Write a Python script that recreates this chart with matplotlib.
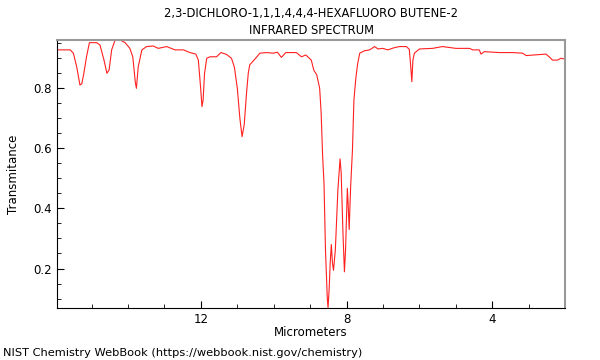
from matplotlib import pyplot as plt
from matplotlib.ticker import MultipleLocator

# spectrum (micrometers, transmittance)
wavelength_um = [
    15.94, 15.59, 15.50, 15.41, 15.32, 15.27, 15.22, 15.14, 15.06, 14.86,
    14.77, 14.66, 14.58, 14.52, 14.45, 14.36, 14.22, 14.08, 13.95, 13.87,
    13.80, 13.77, 13.72, 13.62, 13.49, 13.31, 13.17, 12.94, 12.71, 12.48,
    12.30, 12.14, 12.07, 12.01, 11.97, 11.94, 11.90, 11.84, 11.75, 11.57,
    11.45, 11.30, 11.16, 11.08, 11.00, 10.93, 10.87, 10.81, 10.75, 10.70,
    10.66, 10.52, 10.38, 10.20, 10.02, 9.90, 9.79, 9.67, 9.38, 9.24,
    9.12, 8.97, 8.90, 8.82, 8.74, 8.70, 8.66, 8.62, 8.58, 8.53,
    8.51, 8.48, 8.45, 8.42, 8.39, 8.36, 8.31, 8.24, 8.18, 8.15,
    8.10, 8.06, 8.03, 7.98, 7.96, 7.93, 7.89, 7.84, 7.80, 7.75,
    7.70, 7.64, 7.51, 7.37, 7.23, 7.14, 7.01, 6.87, 6.70, 6.55,
    6.36, 6.28, 6.24, 6.21, 6.18, 6.14, 6.00, 5.64, 5.37, 5.00,
    4.63, 4.54, 4.36, 4.31, 4.22, 3.81, 3.44, 3.17, 3.07, 2.53,
    2.44, 2.35, 2.21, 2.12, 2.03,
]
transmittance = [
    0.928, 0.928, 0.917, 0.872, 0.811, 0.815, 0.845, 0.905, 0.952, 0.952,
    0.944, 0.894, 0.850, 0.861, 0.928, 0.959, 0.961, 0.952, 0.933, 0.905,
    0.820, 0.800, 0.872, 0.928, 0.939, 0.941, 0.933, 0.939, 0.928, 0.928,
    0.919, 0.914, 0.894, 0.805, 0.739, 0.760, 0.850, 0.900, 0.905, 0.905,
    0.919, 0.913, 0.900, 0.870, 0.800, 0.700, 0.639, 0.680, 0.780, 0.850,
    0.878, 0.897, 0.917, 0.919, 0.917, 0.920, 0.903, 0.919, 0.919, 0.905,
    0.911, 0.894, 0.860, 0.845, 0.800, 0.720, 0.580, 0.480, 0.260, 0.100,
    0.070, 0.130, 0.220, 0.280, 0.220, 0.194, 0.261, 0.461, 0.565, 0.520,
    0.317, 0.189, 0.261, 0.467, 0.420, 0.330, 0.472, 0.594, 0.760, 0.830,
    0.880, 0.917, 0.925, 0.928, 0.939, 0.931, 0.933, 0.928, 0.935, 0.939,
    0.939, 0.930, 0.872, 0.822, 0.894, 0.917, 0.931, 0.933, 0.939, 0.933,
    0.933, 0.928, 0.928, 0.914, 0.922, 0.919, 0.919, 0.917, 0.909, 0.914,
    0.905, 0.894, 0.894, 0.900, 0.898,
]

title = "2,3-DICHLORO-1,1,1,4,4,4-HEXAFLUORO BUTENE-2\nINFRARED SPECTRUM"
source = "NIST Chemistry WebBook (https://webbook.nist.gov/chemistry)"

fig = plt.figure(figsize=(6, 3.6), dpi=100)
ax = fig.add_axes([0.095, 0.144, 0.847, 0.745])

ax.plot(wavelength_um, transmittance, color='#ff2020', lw=0.8)
ax.set_xlim(15.95, 2.0)
ax.set_ylim(0.068, 0.961)

ax.xaxis.set_major_locator(MultipleLocator(4))
ax.xaxis.set_minor_locator(MultipleLocator(1))
ax.yaxis.set_major_locator(MultipleLocator(0.2))
ax.yaxis.set_minor_locator(MultipleLocator(0.05))
ax.tick_params(which='both', direction='in', labelsize=8.5)
ax.tick_params(which='major', length=5)
ax.tick_params(which='minor', length=3)
ax.tick_params(top=False, right=False, which='both')

for side in ['top', 'right']:
    ax.spines[side].set_color('#999999')
    ax.spines[side].set_linewidth(1.5)

ax.set_xlabel("Micrometers", fontsize=8.5, labelpad=0)
ax.set_ylabel("Transmitance", fontsize=8.5, labelpad=10)
ax.set_title(title, fontsize=8.3, linespacing=1.4, pad=4)
fig.text(0.005, 0.012, source, fontsize=8.2)

fig.savefig("out.png")
